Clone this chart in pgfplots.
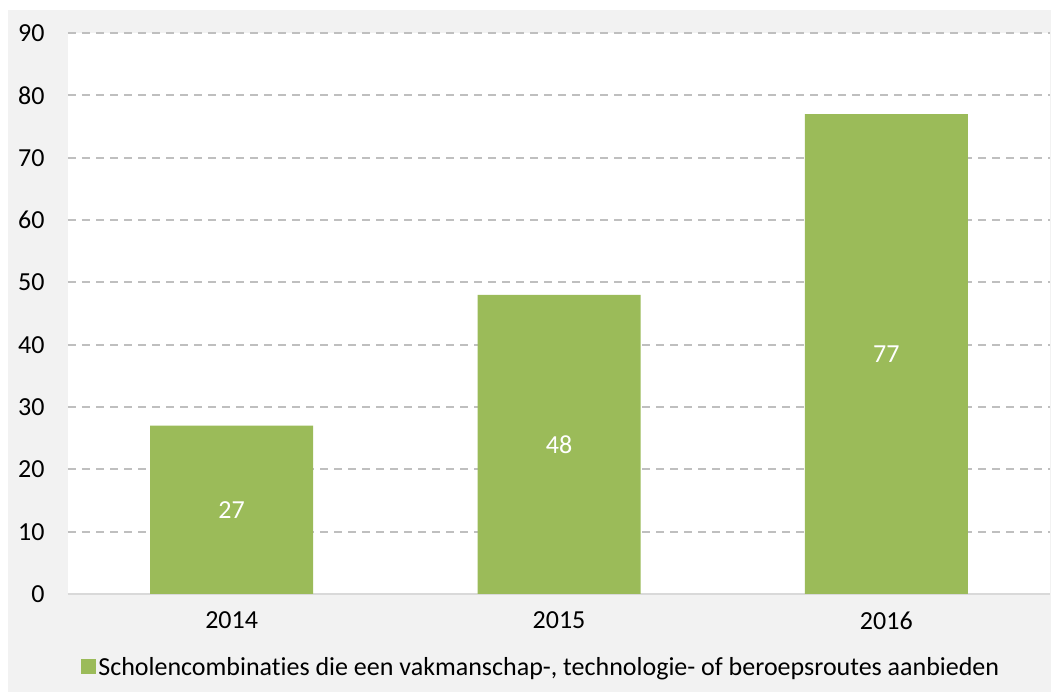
\documentclass[border=0pt]{standalone}
\usepackage{pgfplots}
\pgfplotsset{compat=1.18}
\usepackage{fontspec}
\setmainfont[Ligatures={NoCommon}]{Carlito}
\definecolor{bargreen}{HTML}{9BBB59}
\definecolor{bggray}{HTML}{F2F2F2}
\definecolor{gridgray}{HTML}{BFBFBF}
\definecolor{axisgray}{HTML}{D9D9D9}
\begin{document}
\begin{tikzpicture}[font=\fontsize{26}{31}\selectfont]
\fill[white] (-68pt,-99pt) rectangle (985pt,594pt);
\fill[bggray] (-60pt,-98pt) rectangle (983pt,584pt);
\begin{axis}[
  scale only axis,
  width=982pt, height=561pt,
  at={(0,0)}, anchor=south west,
  axis background/.style={fill=white},
  xmin=-0.5, xmax=2.5,
  ymin=0, ymax=90,
  ytick={0,10,...,90},
  xtick={0,1,2},
  xticklabels={2014,2015,2016},
  axis y line*=left,
  axis x line*=bottom,
  y axis line style={draw=none},
  x axis line style={draw=axisgray, line width=1.5pt, -},
  axis line style={-},
  major tick length=0pt,
  ymajorgrids,
  major grid style={draw=gridgray, line width=2pt, dash pattern=on 8pt off 6pt},
  yticklabel style={anchor=east, xshift=-20pt},
  xticklabel style={yshift=-14pt},
  /pgf/number format/assume math mode=true,
  ticklabel style={font=\fontsize{26}{31}\selectfont},
  clip=false,
  legend style={at={(0.482,-0.130)}, anchor=center, draw=none, fill=none,
    font=\fontsize{26}{31}\selectfont, inner sep=0pt},
  legend image code/.code={\fill[bargreen] (0pt,-7pt) rectangle (15pt,8pt);},
]
\addplot[ybar, bar width=163pt, fill=bargreen, draw=none] coordinates {(0,27) (1,48) (2,77)};
\addlegendentry{Scholencombinaties die een vakmanschap-, technologie- of beroepsroutes aanbieden}
\addplot[draw=none, mark=none, forget plot, nodes near coords, point meta=explicit symbolic,
  every node near coord/.style={anchor=center, text=white, font=\fontsize{26}{31}\selectfont}]
  coordinates {(0,13.5)[27] (1,24)[48] (2,38.5)[77]};
\end{axis}
\end{tikzpicture}
\end{document}
